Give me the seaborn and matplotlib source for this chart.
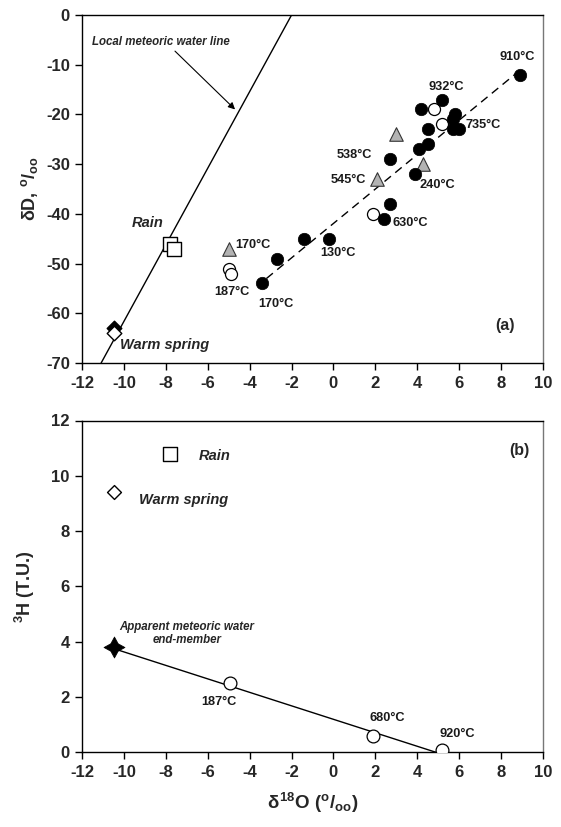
import matplotlib
matplotlib.use("Agg")
import matplotlib.pyplot as plt
import seaborn as sns
import pandas as pd

# ---------------- data: panel (a) ----------------
filled_x = [8.9, 4.2, 5.2, 5.8, 5.7, 5.7, 6.0, 4.5, 4.5, 4.1, 2.7, 3.9, 2.7, 2.4, -0.2, -1.4, -2.7, -3.4]
filled_y = [-12, -19, -17, -20, -21, -23, -23, -23, -26, -27, -29, -32, -38, -41, -45, -45, -49, -54]
open_x = [4.8, 5.2, 1.9, -5.0, -4.9]
open_y = [-19, -22, -40, -51, -52]
tri_x = [3.0, 2.1, 4.3, -5.0]
tri_y = [-24, -33, -30, -47]
rain_x = [-7.8, -7.6]
rain_y = [-46, -47]
spring_filled_x = [-10.5]
spring_filled_y = [-63]
spring_open_x = [-10.5]
spring_open_y = [-64]
lmwl_x = [-11.1, -2.0]
lmwl_y = [-70, 0]
trend_x = [-3.2, 8.8]
trend_y = [-53, -11.5]
temp_labels_a = ["910°C", "932°C", "735°C", "538°C", "545°C", "240°C", "630°C", "130°C", "170°C", "170°C", "187°C"]
temp_x_a = [8.8, 5.4, 6.3, 1.85, 1.55, 4.1, 2.8, 0.2, -2.75, -4.7, -4.85]
temp_y_a = [-8.5, -14.4, -22.1, -28.2, -33.2, -34.2, -41.8, -47.9, -58.1, -46.3, -55.7]

# ---------------- data: panel (b) ----------------
trit_rain_x = [-7.8]
trit_rain_y = [10.8]
trit_spring_x = [-10.5]
trit_spring_y = [9.4]
endmember_x = [-10.5]
endmember_y = [3.8]
trit_open_x = [-4.95, 1.9, 5.2]
trit_open_y = [2.5, 0.6, 0.1]
mix_x = [-10.5, 4.9]
mix_y = [3.75, 0.0]
temp_labels_b = ["187°C", "680°C", "920°C"]
temp_x_b = [-5.45, 2.55, 5.9]
temp_y_b = [1.83, 1.23, 0.65]

x_ticks = [-12, -10, -8, -6, -4, -2, 0, 2, 4, 6, 8, 10]

sns.set_theme(style="ticks")
plt.rcParams['font.family'] = ['Liberation Sans', 'DejaVu Sans']
plt.rcParams['font.weight'] = 'bold'
plt.rcParams['axes.unicode_minus'] = False
plt.rcParams['mathtext.fontset'] = 'custom'
plt.rcParams['mathtext.rm'] = 'Liberation Sans:bold'
plt.rcParams['mathtext.it'] = 'Liberation Sans:bold'
plt.rcParams['mathtext.bf'] = 'Liberation Sans:bold'

fig = plt.figure(figsize=(5.61, 8.27), dpi=100)
W, H = 561, 827
ax1 = fig.add_axes([82.3 / W, 1 - 363 / H, (542.7 - 82.3) / W, (363 - 15) / H])
ax2 = fig.add_axes([82.3 / W, 1 - 752.3 / H, (542.7 - 82.3) / W, (752.3 - 420.5) / H])

lab_kw = dict(fontsize=9.2, fontweight='bold', color='#1a1a1a')

# ---- panel (a)
sns.lineplot(x=lmwl_x, y=lmwl_y, ax=ax1, color='black', lw=1.0, sort=False, estimator=None)
sns.lineplot(x=trend_x, y=trend_y, ax=ax1, color='black', lw=1.0, sort=False, estimator=None,
             linestyle=(0, (6, 4)))
sns.scatterplot(x=rain_x, y=rain_y, ax=ax1, marker='s', s=110, facecolor='white', edgecolor='black', linewidth=1.0, zorder=3)
sns.scatterplot(x=spring_filled_x, y=spring_filled_y, ax=ax1, marker='D', s=55, color='black', edgecolor='black', linewidth=1.0, zorder=3)
sns.scatterplot(x=spring_open_x, y=spring_open_y, ax=ax1, marker='D', s=55, facecolor='white', edgecolor='black', linewidth=1.0, zorder=4)
sns.scatterplot(x=tri_x, y=tri_y, ax=ax1, marker='^', s=95, facecolor='#b3b3b3', edgecolor='#333333', linewidth=0.8, zorder=3)
sns.scatterplot(x=open_x, y=open_y, ax=ax1, marker='o', s=75, facecolor='white', edgecolor='black', linewidth=0.9, zorder=3)
sns.scatterplot(x=filled_x, y=filled_y, ax=ax1, marker='o', s=80, color='black', edgecolor='black', linewidth=0.5, zorder=4)

has = ['center', 'center', 'left', 'right', 'right', 'left', 'left', 'center', 'center', 'left', 'center']
for t, x, y, h in zip(temp_labels_a, temp_x_a, temp_y_a, has):
    ax1.text(x, y, t, ha=h, va='center', **lab_kw)

ax1.text(-8.9, -41.9, 'Rain', ha='center', va='center', fontsize=10.5, fontweight='bold', style='italic')
ax1.text(-10.2, -66.4, 'Warm spring', ha='left', va='center', fontsize=10.5, fontweight='bold', style='italic')
ax1.text(8.2, -62.4, '(a)', ha='center', va='center', fontsize=11.5, fontweight='bold')
ax1.annotate('Local meteoric water line', xy=(-4.7, -19.0), xytext=(-11.55, -5.4),
             ha='left', va='center', fontsize=8.3, fontweight='bold', style='italic',
             arrowprops=dict(arrowstyle='-|>', color='black', lw=0.8, shrinkA=0, shrinkB=0,
                             relpos=(0.58, 0.0), mutation_scale=10))

ax1.set_xlim(-12, 10)
ax1.set_ylim(-70, 0)
ax1.set_xticks(x_ticks)
ax1.set_yticks(list(range(-70, 1, 10)))
ax1.set_ylabel(r'$\delta$D, $^{o}/_{oo}$', fontsize=13, fontweight='bold', labelpad=4)
ax1.set_xlabel('')

# ---- panel (b)
sns.lineplot(x=mix_x, y=mix_y, ax=ax2, color='black', lw=1.0, sort=False, estimator=None)
sns.scatterplot(x=trit_rain_x, y=trit_rain_y, ax=ax2, marker='s', s=95, facecolor='white', edgecolor='black', linewidth=1.0, zorder=3)
sns.scatterplot(x=trit_spring_x, y=trit_spring_y, ax=ax2, marker='D', s=50, facecolor='white', edgecolor='black', linewidth=1.0, zorder=3)
sns.scatterplot(x=endmember_x, y=endmember_y, ax=ax2, marker=(4, 1, 0), s=230, color='black', edgecolor='black', linewidth=0.5, zorder=4)
sns.scatterplot(x=trit_open_x, y=trit_open_y, ax=ax2, marker='o', s=85, facecolor='white', edgecolor='black', linewidth=0.9, zorder=3)

for t, x, y in zip(temp_labels_b, temp_x_b, temp_y_b):
    ax2.text(x, y, t, ha='center', va='center', **lab_kw)

ax2.text(-6.45, 10.7, 'Rain', ha='left', va='center', fontsize=10.5, fontweight='bold', style='italic')
ax2.text(-9.3, 9.12, 'Warm spring', ha='left', va='center', fontsize=10.5, fontweight='bold', style='italic')
ax2.text(-7.0, 4.3, 'Apparent meteoric water\nend-member', ha='center', va='center', fontsize=8.3,
         fontweight='bold', style='italic', linespacing=1.15)
ax2.text(8.9, 10.93, '(b)', ha='center', va='center', fontsize=11.5, fontweight='bold')

ax2.set_xlim(-12, 10)
ax2.set_ylim(0, 12)
ax2.set_xticks(x_ticks)
ax2.set_yticks(list(range(0, 13, 2)))
ax2.set_ylabel(r'$^{3}$H (T.U.)', fontsize=13, fontweight='bold', labelpad=10)
ax2.set_xlabel(r'$\delta^{18}$O ($^{o}/_{oo}$)', fontsize=13.5, fontweight='bold', labelpad=8)

for ax in (ax1, ax2):
    for sp in ax.spines.values():
        sp.set_visible(True)
        sp.set_linewidth(1.0)
        sp.set_color('black')
    ax.spines['right'].set_color('#777777')
    ax.tick_params(direction='out', length=5, width=1.0, labelsize=12, pad=4, color='black')
    for lab in ax.get_xticklabels() + ax.get_yticklabels():
        lab.set_fontweight('bold')
    ax.set_facecolor('white')

fig.savefig('out.png', dpi=100, facecolor='white')
